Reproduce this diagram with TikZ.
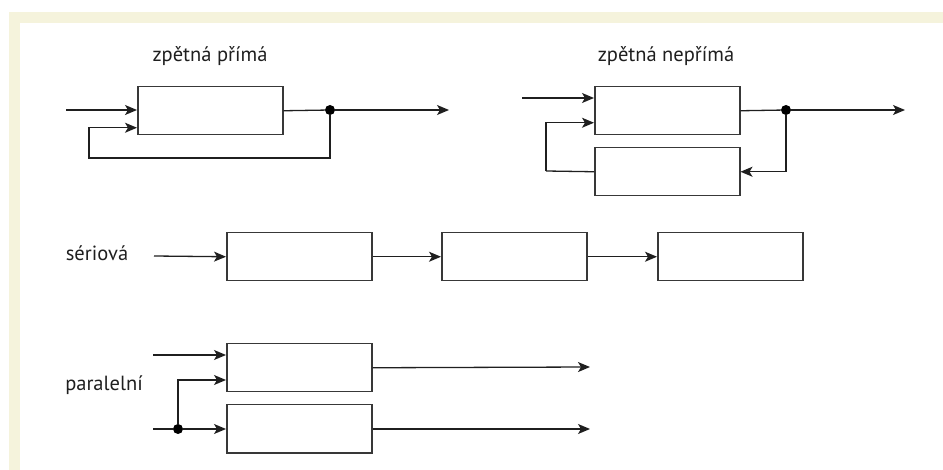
\documentclass[tikz,border=0pt]{standalone}
\usepackage{fontspec}
\setmainfont{PT Sans}
\usetikzlibrary{arrows.meta,calc}
\definecolor{cream}{HTML}{F5F3DC}
\begin{document}
\begin{tikzpicture}[x=1pt,y=-1pt,
  blk/.style={draw=black!78,line width=1.5pt,minimum width=145pt,minimum height=48pt,
    inner sep=0pt,anchor=north west,fill=white},
  wire/.style={draw=black!88,line width=1.3pt},
  sig/.style={wire,-{Stealth[length=12pt,width=10pt,inset=3pt]}},
  dot/.style={circle,fill=black,inner sep=0pt,minimum size=10pt},
  lbl/.style={font=\fontsize{20.5}{24}\selectfont,text=black!88,inner sep=0pt,anchor=base}]
% page and frame band
\fill[white] (0,0) rectangle (943,470);
\fill[cream] (9,12) rectangle (943,23);
\fill[cream] (9,12) rectangle (20,470);
\useasboundingbox (0,0) rectangle (943,470);

% direct feedback
\node[lbl] (t1) at (210,62) {zpětná přímá};
\node[blk] (a1) at (137,86) {};
\coordinate (a1in) at (66,110);
\node[dot] (a1d) at (330,110) {};
\coordinate (a1out) at (449,110);
\coordinate (a1fb) at (89,158);
\draw[sig] (a1in) -- (a1in -| a1.west);
\draw[wire] (a1.east) -- (a1d);
\draw[sig] (a1d) -- (a1out);
\draw[sig] (a1d) |- (a1fb) |- ($(a1.west)+(0,17)$);

% indirect feedback
\node[lbl] (t2) at (666,62) {zpětná nepřímá};
\node[blk] (b1) at (594,86) {};
\node[blk] (b2) at (594,147) {};
\coordinate (b1in) at (522,98);
\node[dot] (b1d) at (786,110) {};
\coordinate (b1out) at (905,110);
\coordinate (b2fb) at (546,171);
\draw[sig] (b1in) -- (b1in -| b1.west);
\draw[wire] (b1.east) -- (b1d);
\draw[sig] (b1d) -- (b1out);
\draw[sig] (b1d) |- (b2.east);
\draw[wire] (b2.west) -- (b2fb);
\draw[sig] (b2fb) |- ($(b1.west)+(0,12)$);

% series connection
\node[lbl] (t3) at (97,261) {sériová};
\node[blk] (s1) at (226,232) {};
\node[blk] (s2) at (441,232) {};
\node[blk] (s3) at (657,232) {};
\coordinate (s1in) at (154,256);
\draw[sig] (s1in) -- (s1.west);
\draw[sig] (s1.east) -- (s2.west);
\draw[sig] (s2.east) -- (s3.west);

% parallel connection
\node[lbl] (t4) at (104,391) {paralelní};
\node[blk] (p1) at (226,343) {};
\node[blk] (p2) at (226,404) {};
\coordinate (p1in) at (153,355);
\coordinate (p2in) at (153,429);
\node[dot] (pd) at (178,429) {};
\coordinate (p1out) at (590,367);
\coordinate (p2out) at (590,429);
\draw[sig] (p1in) -- (p1in -| p1.west);
\draw[wire] (p2in) -- (pd);
\draw[sig] (pd) -- (pd -| p2.west);
\draw[sig] (pd) |- (p1.west |- 0,380);
\draw[sig] (p1.east) -- (p1out);
\draw[sig] (p2.east |- p2out) -- (p2out);
\end{tikzpicture}
\end{document}
